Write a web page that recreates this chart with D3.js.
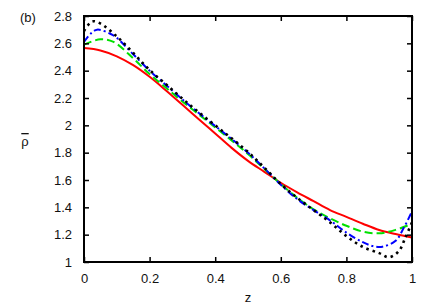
<!DOCTYPE html>
<html>
<head>
<meta charset="utf-8">
<script src="https://cdn.jsdelivr.net/npm/d3@7"></script>
<style>
  body { margin: 0; background: #fff; }
  text { font-family: "Liberation Sans", Arial, sans-serif; fill: #111; }
</style>
</head>
<body>
<script>
// values
var zRed   = [0, 0.05, 0.1, 0.15, 0.2, 0.25, 0.3, 0.35, 0.4, 0.45, 0.5, 0.55, 0.6, 0.65, 0.7, 0.75, 0.8, 0.85, 0.9, 0.95, 1];
var rhoRed = [2.565, 2.548, 2.505, 2.44, 2.355, 2.255, 2.15, 2.045, 1.94, 1.835, 1.74, 1.66, 1.58, 1.51, 1.445, 1.38, 1.33, 1.28, 1.234, 1.205, 1.18];

var zGreen   = [0, 0.05, 0.09, 0.15, 0.2, 0.25, 0.3, 0.35, 0.4, 0.45, 0.5, 0.55, 0.6, 0.65, 0.7, 0.75, 0.8, 0.85, 0.9, 0.95, 1];
var rhoGreen = [2.59, 2.63, 2.61, 2.49, 2.375, 2.275, 2.175, 2.08, 1.985, 1.89, 1.79, 1.68, 1.57, 1.47, 1.385, 1.32, 1.265, 1.222, 1.21, 1.235, 1.28];

var zBlue   = [0, 0.02, 0.04, 0.08, 0.1, 0.15, 0.2, 0.25, 0.3, 0.35, 0.4, 0.45, 0.5, 0.55, 0.6, 0.65, 0.7, 0.75, 0.8, 0.85, 0.88, 0.91, 0.95, 0.975, 1];
var rhoBlue = [2.61, 2.67, 2.70, 2.67, 2.64, 2.52, 2.40, 2.295, 2.19, 2.09, 1.995, 1.90, 1.80, 1.685, 1.565, 1.46, 1.38, 1.305, 1.215, 1.145, 1.117, 1.112, 1.155, 1.25, 1.37];

var zBlack   = [0, 0.025, 0.05, 0.1, 0.15, 0.2, 0.25, 0.3, 0.35, 0.4, 0.45, 0.5, 0.55, 0.6, 0.65, 0.7, 0.75, 0.8, 0.85, 0.9, 0.93, 0.96, 0.98, 1];
var rhoBlack = [2.69, 2.76, 2.745, 2.65, 2.53, 2.405, 2.30, 2.195, 2.095, 2.0, 1.905, 1.805, 1.69, 1.57, 1.47, 1.38, 1.29, 1.19, 1.11, 1.065, 1.035, 1.08, 1.18, 1.29];

var xTicks = [0, 0.2, 0.4, 0.6, 0.8, 1];
var yTicks = [1, 1.2, 1.4, 1.6, 1.8, 2, 2.2, 2.4, 2.6, 2.8];

var margin = {top: 16, left: 84},
    width = 412 - margin.left,
    height = 262 - margin.top;

var svg = d3.select("body").append("svg")
    .attr("width", 436)
    .attr("height", 305);

var g = svg.append("g")
    .attr("transform", "translate(" + margin.left + "," + margin.top + ")");

var xscale = d3.scaleLinear().domain([0, 1]).range([0, width]);
var yscale = d3.scaleLinear().domain([1, 2.8]).range([height, 0]);

g.append("clipPath").attr("id", "clip")
    .append("rect").attr("width", width).attr("height", height);

var series = [
    {z: zRed,   v: rhoRed,   color: "#ff0000", dash: null,      w: 2},
    {z: zGreen, v: rhoGreen, color: "#00e000", dash: "8,4",     w: 2},
    {z: zBlue,  v: rhoBlue,  color: "#0000ff", dash: "7,3,2,3", w: 2},
    {z: zBlack, v: rhoBlack, color: "#000000", dash: "2.5,4",   w: 2.6}
];

var line = d3.line()
    .x(function(d) { return xscale(d[0]); })
    .y(function(d) { return yscale(d[1]); })
    .curve(d3.curveCatmullRom);

series.forEach(function(s) {
    g.append("path")
        .datum(d3.zip(s.z, s.v))
        .attr("clip-path", "url(#clip)")
        .attr("fill", "none")
        .attr("stroke", s.color)
        .attr("stroke-width", s.w)
        .attr("stroke-dasharray", s.dash)
        .attr("d", line);
});

// axes, ticks inward on all four sides
var xAxis = d3.axisBottom(xscale).tickValues(xTicks).tickSizeInner(-5).tickSizeOuter(0)
    .tickPadding(12).tickFormat(d3.format("~g"));
var yAxis = d3.axisLeft(yscale).tickValues(yTicks).tickSizeInner(-5).tickSizeOuter(0)
    .tickPadding(12).tickFormat(d3.format("~g"));
var xTop = d3.axisTop(xscale).tickValues(xTicks).tickSizeInner(-5).tickSizeOuter(0).tickFormat("");
var yRight = d3.axisRight(yscale).tickValues(yTicks).tickSizeInner(-5).tickSizeOuter(0).tickFormat("");

function style(sel) {
    sel.select(".domain").remove();
    sel.selectAll("line").attr("stroke", "#000").attr("stroke-width", 1.5);
    sel.selectAll("text").style("font-size", "13px").attr("fill", "#111");
}

g.append("g").attr("transform", "translate(0," + height + ")").call(xAxis).call(style);
g.append("g").call(yAxis).call(style);
g.append("g").call(xTop).call(style);
g.append("g").attr("transform", "translate(" + width + ",0)").call(yRight).call(style);

g.append("rect")
    .attr("width", width).attr("height", height)
    .attr("fill", "none").attr("stroke", "#000").attr("stroke-width", 2);

svg.append("text").attr("x", 20).attr("y", 22).style("font-size", "13px").text("(b)");
svg.append("text").attr("x", 248).attr("y", 302).attr("text-anchor", "middle")
    .style("font-size", "13px").text("z");
svg.append("text").attr("x", 25).attr("y", 146).attr("text-anchor", "middle")
    .style("font-size", "13px").style("text-decoration", "overline").text("ρ");
</script>
</body>
</html>
